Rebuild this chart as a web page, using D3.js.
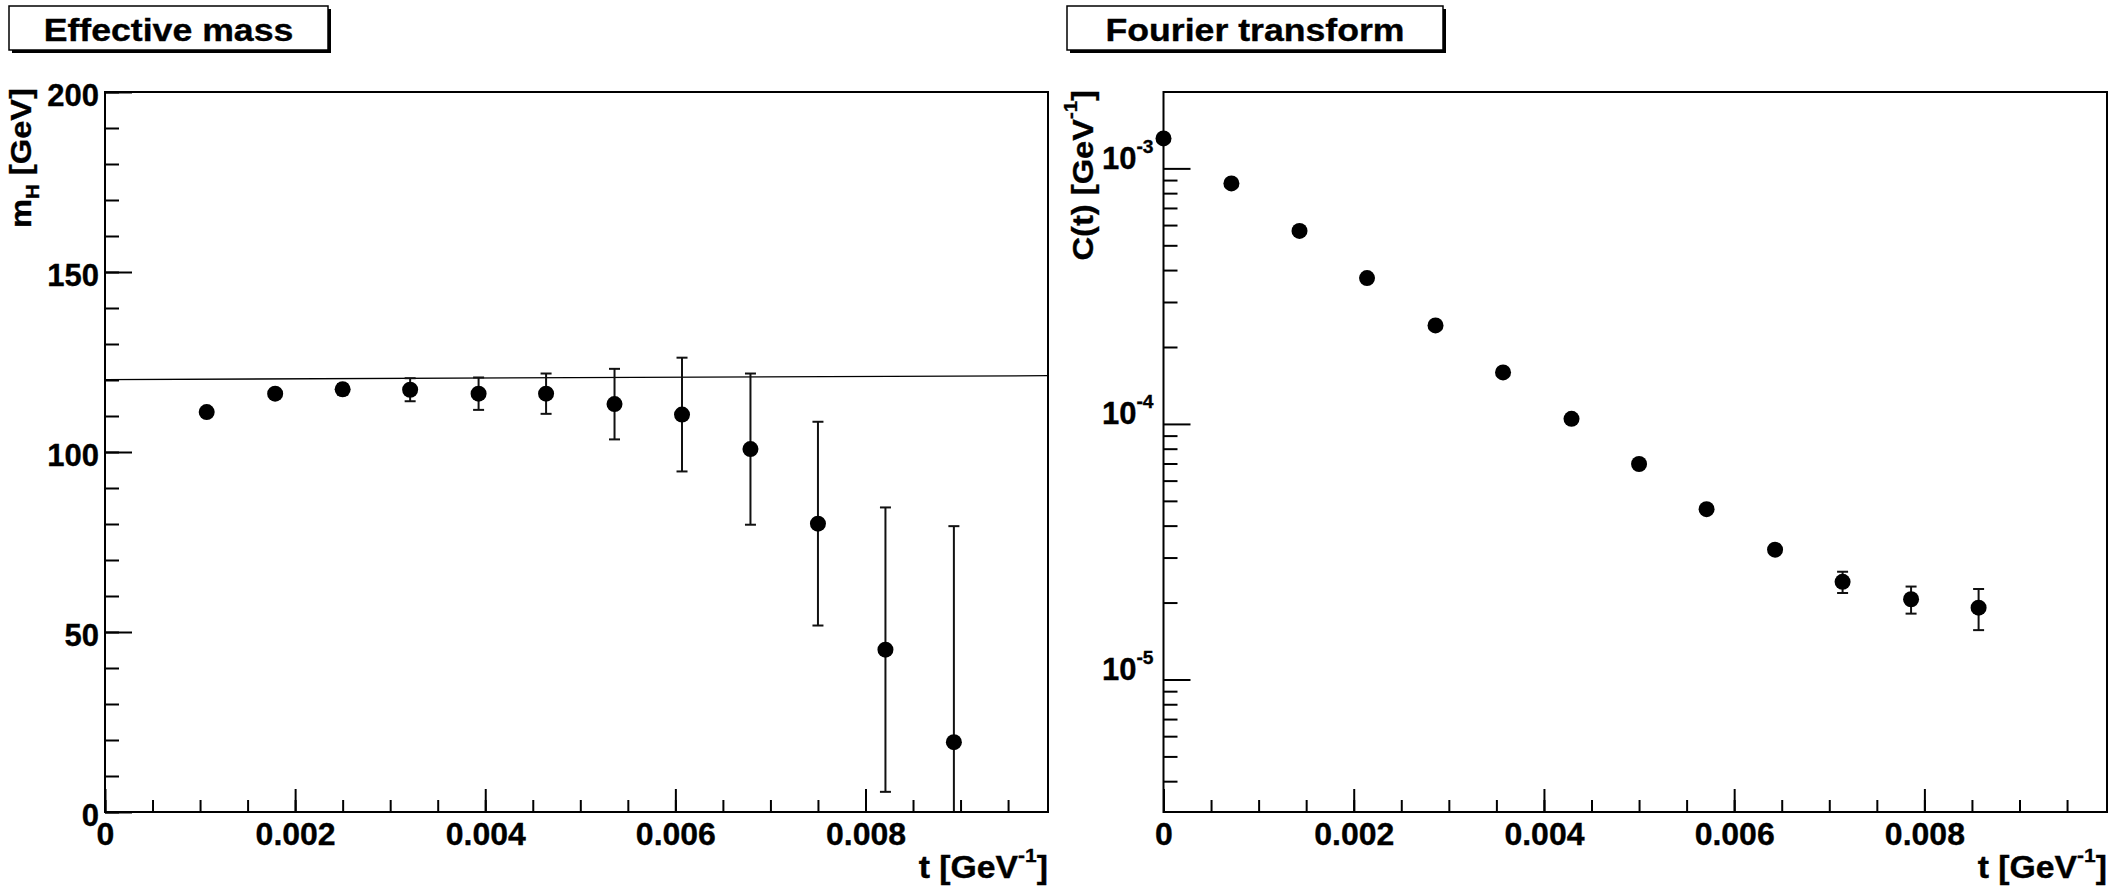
<!DOCTYPE html>
<meta charset="utf-8">
<title>Effective mass / Fourier transform</title>
<style>
  body { margin: 0; background: #fff; }
  svg text { font-family: 'Liberation Sans', Arial, Helvetica, sans-serif; font-weight: bold; fill: #000; stroke: #000; stroke-width: 0.35px; }
  .tick line { stroke: #000; stroke-width: 2; }
</style>
<svg width="2112" height="889"></svg>
<script src="https://cdn.jsdelivr.net/npm/d3@7"></script>
<script>
// ---- data ----
var massT   = [0.00107, 0.00179, 0.0025, 0.00321, 0.00393, 0.00464, 0.00536, 0.00607, 0.00679, 0.0075, 0.00821, 0.00893];
var massVal = [111.1, 116.2, 117.4, 117.3, 116.2, 116.2, 113.3, 110.4, 100.8, 80.1, 45.1, 19.4];
var massErr = [0.8, 1.0, 1.5, 3.2, 4.5, 5.6, 9.8, 15.8, 21.0, 28.3, 39.5, 60.0];
// fitted line (value at start and end of the t range)
var fitT    = [0, 0.00992];
var fitVal  = [120.1, 121.2];

var corrT   = [0, 0.000714, 0.00143, 0.00214, 0.00286, 0.00357, 0.00429, 0.005, 0.00571, 0.00643, 0.00714, 0.00786, 0.00857];
var corrVal = [1.31e-3, 8.73e-4, 5.69e-4, 3.72e-4, 2.43e-4, 1.59e-4, 1.047e-4, 6.97e-5, 4.64e-5, 3.22e-5, 2.41e-5, 2.06e-5, 1.91e-5];
var corrErr = [1.5e-5, 1.0e-5, 7e-6, 5e-6, 3.5e-6, 2.5e-6, 1.8e-6, 1.3e-6, 1.1e-6, 1.0e-6, 2.3e-6, 2.5e-6, 3.5e-6];

var tTicks    = [0, 0.002, 0.004, 0.006, 0.008];
var tLabels   = ["0", "0.002", "0.004", "0.006", "0.008"];
var massTicks = [0, 50, 100, 150, 200];
var corrTicks = [1e-5, 1e-4, 1e-3];

// ---- layout ----
var svg = d3.select("svg");
var plotTop = 92, plotBottom = 812;
var tDomain = [0, 0.00992];

var xL = d3.scaleLinear().domain(tDomain).range([105, 1048]);
var xR = d3.scaleLinear().domain(tDomain).range([1163.5, 2107]);
var yL = d3.scaleLinear().domain([0, 200]).range([plotBottom, plotTop]);
var yR = d3.scaleLog().domain([3.03e-6, 1.99e-3]).range([plotBottom, plotTop]);

var tMinor = d3.range(0, 20).map(function(i){ return i * 0.0005; }).filter(function(v){ return v <= tDomain[1]; });
var massMinor = d3.range(0, 21).map(function(i){ return i * 10; });
var corrMinor = [];
[-6, -5, -4, -3].forEach(function(e){
  for (var k = 2; k <= 9; k++) {
    var v = k * Math.pow(10, e);
    if (v >= yR.domain()[0] && v <= yR.domain()[1]) corrMinor.push(v);
  }
});

function titleBox(x, y, w, h, label) {
  var g = svg.append("g");
  g.append("rect").attr("x", x + 3).attr("y", y + 3).attr("width", w).attr("height", h).attr("fill", "#000");
  g.append("rect").attr("x", x).attr("y", y).attr("width", w).attr("height", h)
    .attr("fill", "#fff").attr("stroke", "#000").attr("stroke-width", 1.5);
  g.append("text").attr("transform", "translate(" + (x + w / 2) + "," + (y + 35) + ") scale(1.15,1)")
    .attr("text-anchor", "middle").style("font-size", "31px").text(label);
}

// text with parts, where some parts are super/subscripts
function richText(sel, parts, size) {
  var shift = 0;
  parts.forEach(function(p){
    var ts = sel.append("tspan").text(p.t);
    var want = p.sup ? -size * 0.52 : (p.sub ? size * 0.25 : 0);
    ts.attr("dy", want - shift);
    ts.style("font-size", (p.sup || p.sub) ? (size * 0.62) + "px" : size + "px");
    shift = want;
  });
}

function frame(x) {
  svg.append("rect")
    .attr("x", x.range()[0]).attr("y", plotTop)
    .attr("width", x.range()[1] - x.range()[0]).attr("height", plotBottom - plotTop)
    .attr("fill", "none").attr("stroke", "#000").attr("stroke-width", 2);
}

function xAxis(x) {
  svg.append("g").attr("transform", "translate(0," + plotBottom + ")")
    .call(d3.axisBottom(x).tickValues(tMinor).tickSizeInner(-12).tickSizeOuter(0).tickFormat(""))
    .call(function(g){ g.select(".domain").remove(); });
  var g = svg.append("g").attr("transform", "translate(0," + plotBottom + ")")
    .call(d3.axisBottom(x).tickValues(tTicks).tickSizeInner(-23).tickSizeOuter(0).tickPadding(10)
      .tickFormat(function(d, i){ return tLabels[i]; }));
  g.select(".domain").remove();
  g.selectAll("text").style("font-size", "32px").attr("fill", "#000");
  var t = svg.append("text").attr("text-anchor", "end")
    .attr("transform", "translate(" + x.range()[1] + ",878) scale(1.09,1)");
  richText(t, [{t: "t [GeV"}, {t: "-1", sup: true}, {t: "]"}], 31);
}

function dataClip(id, x) {
  svg.append("clipPath").attr("id", id).append("rect")
    .attr("x", x.range()[0]).attr("y", plotTop)
    .attr("width", x.range()[1] - x.range()[0]).attr("height", plotBottom - plotTop);
}

function points(x, y, ts, vals, errs, clipId) {
  var lo = y.domain()[0], hi = y.domain()[1];
  var g = svg.append("g").attr("clip-path", "url(#" + clipId + ")");
  var idx = d3.range(ts.length);
  g.selectAll("line.bar").data(idx).enter().append("line")
    .attr("x1", function(i){ return x(ts[i]); }).attr("x2", function(i){ return x(ts[i]); })
    .attr("y1", function(i){ return y(Math.max(vals[i] - errs[i], lo)); })
    .attr("y2", function(i){ return y(vals[i] + errs[i]); })
    .attr("stroke", "#111").attr("stroke-width", 2);
  var caps = [];
  idx.forEach(function(i){
    var a = vals[i] - errs[i], b = vals[i] + errs[i];
    if (a > lo) caps.push([ts[i], a]);
    if (b < hi) caps.push([ts[i], b]);
  });
  g.selectAll("line.cap").data(caps).enter().append("line")
    .attr("x1", function(d){ return x(d[0]) - 5.5; }).attr("x2", function(d){ return x(d[0]) + 5.5; })
    .attr("y1", function(d){ return y(d[1]); }).attr("y2", function(d){ return y(d[1]); })
    .attr("stroke", "#111").attr("stroke-width", 2);
  svg.append("g").selectAll("circle").data(idx).enter().append("circle")
    .attr("cx", function(i){ return x(ts[i]); }).attr("cy", function(i){ return y(vals[i]); })
    .attr("r", 8).attr("fill", "#000");
}

// ---- left: effective mass ----
titleBox(9, 6, 319, 44, "Effective mass");
dataClip("clipL", xL);
svg.append("g").attr("transform", "translate(105,0)")
  .call(d3.axisLeft(yL).tickValues(massMinor).tickSizeInner(-14).tickSizeOuter(0).tickFormat(""))
  .call(function(g){ g.select(".domain").remove(); });
var gyL = svg.append("g").attr("transform", "translate(105,0)")
  .call(d3.axisLeft(yL).tickValues(massTicks).tickSizeInner(-27).tickSizeOuter(0).tickPadding(6));
gyL.select(".domain").remove();
gyL.selectAll("text").style("font-size", "31px").attr("fill", "#000").attr("dy", "0.42em");
xAxis(xL);
var ytL = svg.append("text").attr("text-anchor", "end")
  .attr("transform", "translate(31,88) rotate(-90) scale(1.09,1)");
richText(ytL, [{t: "m"}, {t: "H", sub: true}, {t: " [GeV]"}], 30);

svg.append("path")
  .datum(d3.range(fitT.length))
  .attr("clip-path", "url(#clipL)")
  .attr("d", d3.line().x(function(i){ return xL(fitT[i]); }).y(function(i){ return yL(fitVal[i]); }))
  .attr("fill", "none").attr("stroke", "#000").attr("stroke-width", 1.3);
points(xL, yL, massT, massVal, massErr, "clipL");
frame(xL);

// ---- right: Fourier transform ----
titleBox(1067, 6, 376, 44, "Fourier transform");
dataClip("clipR", xR);
svg.append("g").attr("transform", "translate(1163.5,0)")
  .call(d3.axisLeft(yR).tickValues(corrMinor).tickSizeInner(-14).tickSizeOuter(0).tickFormat(""))
  .call(function(g){ g.select(".domain").remove(); });
var gyR = svg.append("g").attr("transform", "translate(1163.5,0)")
  .call(d3.axisLeft(yR).tickValues(corrTicks).tickSizeInner(-27).tickSizeOuter(0).tickPadding(10).tickFormat(""));
gyR.select(".domain").remove();
gyR.selectAll(".tick text").each(function(d){
  var t = d3.select(this).attr("dy", "0.55em").attr("fill", "#000");
  richText(t, [{t: "10"}, {t: String(Math.round(Math.log10(d))), sup: true}], 31);
});
xAxis(xR);
var ytR = svg.append("text").attr("text-anchor", "end")
  .attr("transform", "translate(1093,90) rotate(-90) scale(1.09,1)");
richText(ytR, [{t: "C(t) [GeV"}, {t: "-1", sup: true}, {t: "]"}], 30);

points(xR, yR, corrT, corrVal, corrErr, "clipR");
frame(xR);
</script>
